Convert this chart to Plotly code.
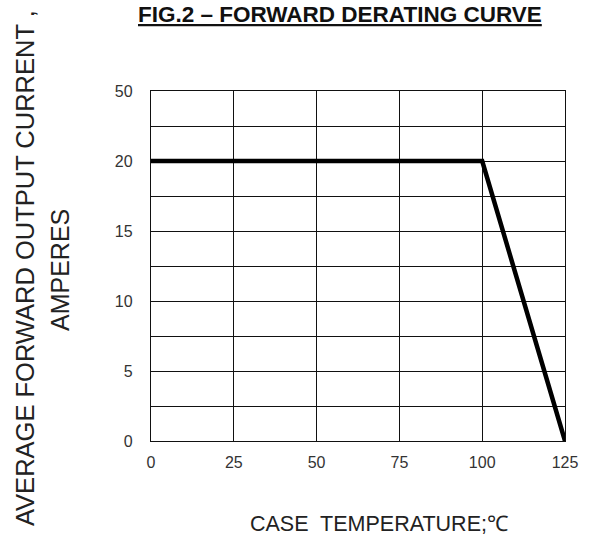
import plotly.graph_objects as go

# Data
temps = [0, 100, 125]
current = [20, 20, 0]

x_ticks = [0, 25, 50, 75, 100, 125]
x_ticktext = ["0", "25", "50", "75", "100", "125"]
y_ticks = [0, 2.5, 5, 7.5, 10, 12.5, 15, 17.5, 20, 22.5, 25]
y_ticktext = ["0", "", "5", "", "10", "", "15", "", "20", "", "50"]

title_text = "FIG.2 \u2013 FORWARD DERATING CURVE"
ytitle1 = "AVERAGE FORWARD OUTPUT CURRENT ,"
ytitle2 = "AMPERES"
xtitle = "CASE\u00a0 TEMPERATURE;\u2103"

FONT = "Liberation Sans, Arial, sans-serif"
W, H = 592, 544
# target plot box in window pixels
PL, PR, PT, PB = 151, 565, 91, 441
L, T = PL, PT
R, B = W - PR, H - PB
PW, PH = W - L - R, H - T - B

def px_x(p):
    return (p - L) / PW

def px_y(p):
    return (H - B - p) / PH

fig = go.Figure()
fig.add_trace(go.Scatter(
    x=temps, y=current, mode="lines",
    line=dict(color="black", width=4.5),
    hoverinfo="skip", showlegend=False,
))

axis_common = dict(
    showgrid=True, gridcolor="#111111", gridwidth=1.3,
    showline=True, linecolor="#111111", linewidth=1.3, mirror=True,
    zeroline=False, ticks="",
    tickfont=dict(family=FONT, size=16, color="#333333"),
)

fig.update_xaxes(range=[0, 125], tickmode="array", tickvals=x_ticks,
                 ticktext=x_ticktext, ticklabelstandoff=7, **axis_common)
fig.update_yaxes(range=[0, 25], tickmode="array", tickvals=y_ticks,
                 ticktext=y_ticktext, ticklabelstandoff=14, **axis_common)

fig.add_annotation(text="<b>" + title_text + "</b>", xref="paper", yref="paper",
                   x=px_x(340), y=px_y(14), xanchor="center", yanchor="middle",
                   showarrow=False,
                   font=dict(family=FONT, size=22.5, color="#111111", lineposition="under"))
fig.add_annotation(text=ytitle1, xref="paper", yref="paper",
                   x=px_x(25), y=px_y(268), xanchor="center", yanchor="middle",
                   textangle=-90, showarrow=False,
                   font=dict(family=FONT, size=25.5, color="#222222"))
fig.add_annotation(text=ytitle2, xref="paper", yref="paper",
                   x=px_x(60), y=px_y(270), xanchor="center", yanchor="middle",
                   textangle=-90, showarrow=False,
                   font=dict(family=FONT, size=25, color="#222222"))
fig.add_annotation(text=xtitle, xref="paper", yref="paper",
                   x=px_x(379), y=px_y(524), xanchor="center", yanchor="middle",
                   showarrow=False,
                   font=dict(family=FONT, size=21.5, color="#222222"))

fig.update_layout(
    width=W, height=H,
    margin=dict(l=L, r=R, t=T, b=B),
    paper_bgcolor="white", plot_bgcolor="white",
    showlegend=False,
)

fig.write_html("out.html",
               config={"displayModeBar": False},
               post_script="document.body.style.margin='0';")
